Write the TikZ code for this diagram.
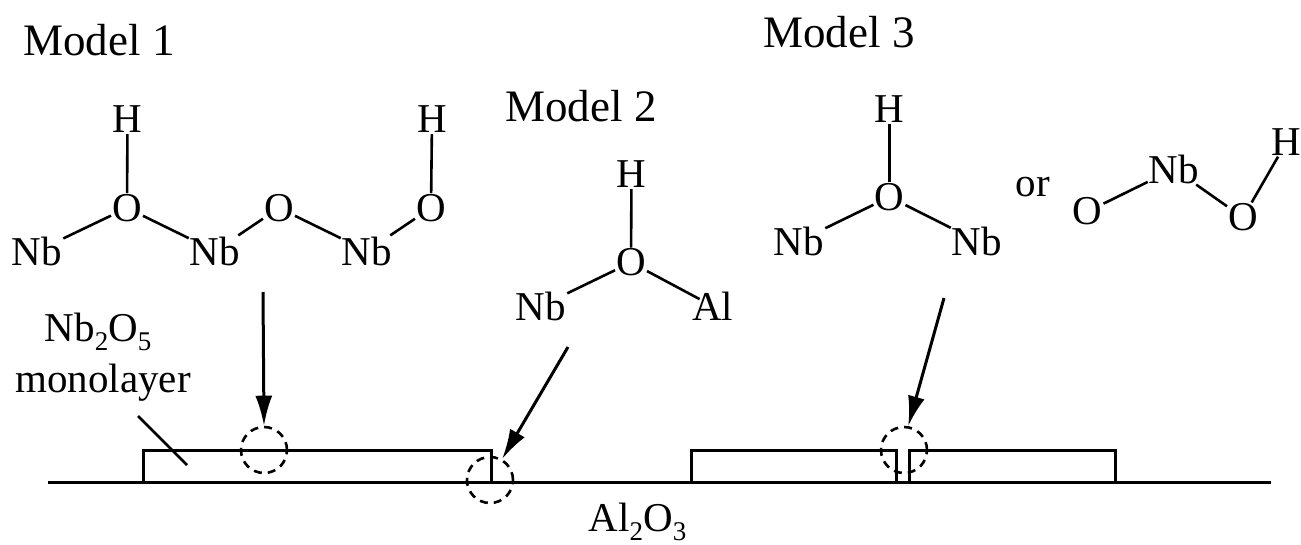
\documentclass[tikz,border=0pt]{standalone}
\usepackage{fontspec}
\setmainfont{Liberation Serif}
\usepackage{tikz}
\usetikzlibrary{arrows.meta, calc}
\newcommand{\sbs}[1]{\raisebox{-0.22em}{\fontsize{27}{27}\selectfont #1}}
\tikzset{
    atom/.style={font=\fontsize{41}{41}\selectfont, inner sep=1pt, text=black},
    title/.style={font=\fontsize{45}{45}\selectfont, inner sep=0pt, text=black},
    bond/.style={line width=2.6pt},
    leader/.style={-{Latex[length=30pt, width=17pt]}, line width=3pt},
    layer/.style={line width=3pt},
    ring/.style={circle, draw, dash pattern=on 8pt off 6pt, line width=2.6pt, minimum size=46pt, inner sep=0pt}
}
\begin{document}
\begin{tikzpicture}[x=1pt, y=-1pt, every node/.append style={anchor=center}]
    \useasboundingbox (0,0) rectangle (1301,544);
    % titles
    \node[title] (m1) at (99,40) {Model 1};
    \node[title] (m2) at (581,106) {Model 2};
    \node[title] (m3) at (839,32) {Model 3};
    % model 1
    \node[atom] (h1) at (127.5,119.5) {H};
    \node[atom] (o1) at (127,208) {O};
    \node[atom] (nb1) at (37,251) {Nb};
    \node[atom] (nb2) at (215,251) {Nb};
    \node[atom] (o2) at (279,208) {O};
    \node[atom] (nb3) at (367,251) {Nb};
    \node[atom] (o3) at (431,208) {O};
    \node[atom] (h2) at (432,119.5) {H};
    \draw[bond] (h1) -- (o1);
    \draw[bond] (o1) -- (nb1);
    \draw[bond] (o1) -- (nb2);
    \draw[bond] (nb2) -- (o2);
    \draw[bond] (o2) -- (nb3);
    \draw[bond] (nb3) -- (o3);
    \draw[bond] (o3) -- (h2);
    % model 2
    \node[atom] (h3) at (631.5,174.5) {H};
    \node[atom] (o4) at (631,262.5) {O};
    \node[atom] (nb4) at (541,306) {Nb};
    \node[atom] (al1) at (712.5,306) {Al};
    \draw[bond] (h3) -- (o4);
    \draw[bond] (o4) -- (nb4);
    \draw[bond, shorten >=-10pt] (o4) -- (al1);
    % model 3
    \node[atom] (h4) at (889.5,109) {H};
    \node[atom] (o5) at (889.5,197) {O};
    \node[atom] (nb5) at (799,241) {Nb};
    \node[atom] (nb6) at (977,241) {Nb};
    \node[atom] (or1) at (1033,187.5) {or};
    \node[atom] (o6) at (1087.5,211.5) {O};
    \node[atom] (nb7) at (1174,169) {Nb};
    \node[atom] (o7) at (1243,217.5) {O};
    \node[atom] (h5) at (1286.5,142) {H};
    \draw[bond] (h4) -- (o5);
    \draw[bond] (o5) -- (nb5);
    \draw[bond] (o5) -- (nb6);
    \draw[bond] (o6) -- (nb7);
    \draw[bond] (nb7) -- (o7);
    \draw[bond] (o7) -- (h5);
    % support and layers
    \coordinate (s1) at (48,482);
    \coordinate (s2) at (1271,482);
    \draw[layer] (s1) -- (s2);
    \draw[layer] (143,482) -- (143,450) -- (491,450) -- (491,482);
    \draw[layer] (691,482) -- (691,450) -- (896,450) -- (896,482);
    \draw[layer] (909,482) -- (909,450) -- (1115,450) -- (1115,482);
    \node[atom] (nbo) at (98,332) {Nb\sbs{2}O\sbs{5}};
    \node[atom] (mono) at (103,383) {monolayer};
    \node[atom, inner sep=0pt] (al2o3) at (637.5,522) {Al\sbs{2}O\sbs{3}};
    \coordinate (mono1) at (138,416);
    \coordinate (mono2) at (187,465);
    \draw[bond] (mono1) -- (mono2);
    % rings
    \node[ring] (r1) at (264,450) {};
    \node[ring] (r2) at (490,480) {};
    \node[ring] (r3) at (904,450) {};
    % arrows
    \coordinate (a1) at (263,292);
    \coordinate (a2) at (568,347);
    \coordinate (a3) at (944,298);
    \draw[leader] (a1) -- (r1.north);
    \draw[leader] (a2) -- (r2.60);
    \draw[leader] (a3) -- (r3.80);
\end{tikzpicture}
\end{document}
